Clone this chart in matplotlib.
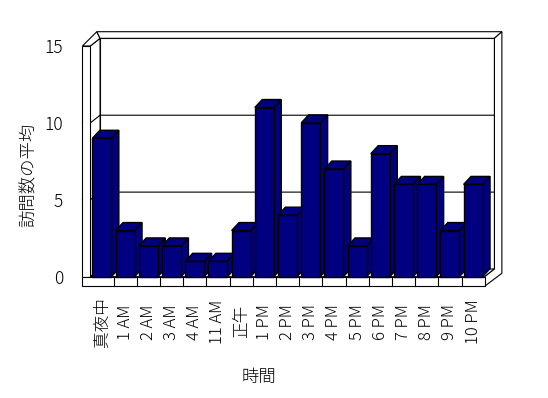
import matplotlib
matplotlib.use("Agg")
import matplotlib.pyplot as plt
from matplotlib.patches import Polygon

plt.rcParams['font.family'] = ['Noto Sans CJK JP', 'DejaVu Sans']
plt.rcParams['font.weight'] = 'light'
plt.rcParams['axes.labelweight'] = 'light'

hours = ["真夜中", "1 AM", "2 AM", "3 AM", "4 AM", "11 AM", "正午", "1 PM", "2 PM",
         "3 PM", "4 PM", "5 PM", "6 PM", "7 PM", "8 PM", "9 PM", "10 PM"]
visits = [9, 3, 2, 2, 1, 1, 3, 11, 4, 10, 7, 2, 8, 6, 6, 3, 6]
yticks = [0, 5, 10, 15]

NAVY = "#000080"
n = len(hours)
ymax = 15
x0, x1 = -0.5, n - 0.5
xo = -0.84          # outer face of left wall
fl = -0.62          # floor slab bottom
dxw, dyw = 0.42, 0.5  # depth of the plot box
dxb, dyb = 0.32, 0.52  # depth of the bars
hw = 0.41

fig = plt.figure(figsize=(5.48, 3.98), dpi=100)
ax = fig.add_axes([0.1648, 0.3048, 0.7197, 0.5796])
ax.set_xlim(x0, x1)
ax.set_ylim(0, ymax)
ax.patch.set_visible(False)
for s in ax.spines.values():
    s.set_visible(False)


def face(pts, fc="white", z=1, lw=0.8):
    ax.add_patch(Polygon(pts, closed=True, facecolor=fc, edgecolor="black",
                         linewidth=lw, zorder=z, clip_on=False))


# back wall, left wall, floor
face([(x0 + dxw, dyw), (x1 + dxw, dyw), (x1 + dxw, ymax + dyw), (x0 + dxw, ymax + dyw)])
face([(x0, 0), (x0 + dxw, dyw), (x0 + dxw, ymax + dyw), (x0, ymax)])
face([(x0, 0), (x1, 0), (x1 + dxw, dyw), (x0 + dxw, dyw)])
# wall tops and right edge of the slabs
face([(xo, ymax), (x0, ymax), (x0 + dxw, ymax + dyw), (x0 + 0.28, ymax + 0.93)])
face([(x0 + 0.28, ymax + 0.93), (x1 + dxw + 0.32, ymax + 0.93), (x1 + dxw, ymax + dyw),
      (x0 + dxw, ymax + dyw)])
face([(x1, 0), (x1, fl), (x1 + dxw + 0.32, dyw - 0.28), (x1 + dxw + 0.32, ymax + 0.93),
      (x1 + dxw, ymax + dyw), (x1 + dxw, dyw)])
# front faces of left wall and floor
face([(xo, 0), (x0, 0), (x0, ymax), (xo, ymax)], z=2)
face([(xo, fl), (x1, fl), (x1, 0), (xo, 0)], z=2)
for i in range(n - 1):
    ax.plot([i + 0.5, i + 0.5], [fl, 0], color="black", lw=0.8, zorder=2, clip_on=False)

# gridlines
for v in yticks[1:-1]:
    ax.plot([xo, x0, x0 + dxw, x1 + dxw], [v, v, v + dyw, v + dyw],
            color="black", lw=0.8, zorder=1.5, clip_on=False)

# bars
for i, v in enumerate(visits):
    face([(i + hw, 0), (i + hw, v), (i + hw + dxb, v + dyb), (i + hw + dxb, dyb)],
         fc=NAVY, z=3 + i, lw=1.0)
    face([(i - hw, v), (i + hw, v), (i + hw + dxb, v + dyb), (i - hw + dxb, v + dyb)],
         fc=NAVY, z=3 + i, lw=1.0)
    face([(i - hw, 0), (i + hw, 0), (i + hw, v), (i - hw, v)], fc=NAVY, z=3 + i, lw=1.0)

ax.set_yticks(yticks)
ax.set_yticklabels([str(t) for t in yticks], fontsize=12.5)
ax.set_xticks(range(n))
ax.set_xticklabels(hours, rotation=90, fontsize=12, va="center", ha="center")
ax.tick_params(axis="y", length=0, pad=19.5)
ax.tick_params(axis="x", length=0, pad=32.5)

ax.set_ylabel("訪問数の平均", fontsize=12.5, va="center")
ax.yaxis.set_label_coords(-0.157, 0.441)
ax.set_xlabel("時間", fontsize=12.5, va="center")
ax.xaxis.set_label_coords(0.428, -0.435)

fig.savefig("out.png", dpi=100)
